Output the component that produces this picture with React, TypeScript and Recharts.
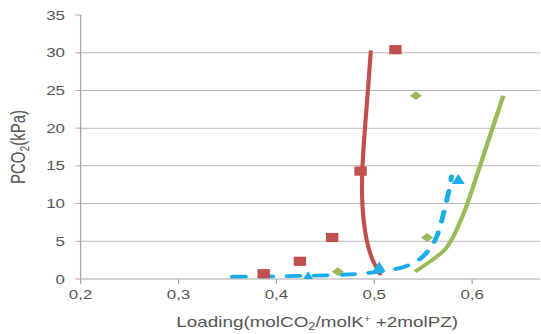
import React from 'react';
import { ComposedChart, Line, Scatter, XAxis, YAxis, ReferenceLine, Label } from 'recharts';

// ---- tick labels / axes ----
const xTicks = [0.2, 0.3, 0.4, 0.5, 0.6];
const yTicks = [0, 5, 10, 15, 20, 25, 30, 35];
const gridValues = [5, 10, 15, 20, 25, 30];

// ---- experimental points ----
const redExpX = [0.387, 0.424, 0.457, 0.486, 0.5216];
const redExpY = [0.7, 2.35, 5.5, 14.3, 30.4];
const greenExpX = [0.4628, 0.5425, 0.554];
const greenExpY = [0.97, 24.3, 5.5];
const blueExpX = [0.4324, 0.505, 0.5858];
const blueExpY = [0.3, 1.6, 13.2];

// ---- model curves ----
const redModelX = [0.5065, 0.4985, 0.4925, 0.489, 0.4875, 0.488, 0.4905, 0.4935, 0.4965];
const redModelY = [0.5, 2.5, 5, 8, 11, 15, 20, 25, 30.3];
const greenModelX = [0.5415, 0.56, 0.574, 0.584, 0.594, 0.606, 0.619, 0.6318];
const greenModelY = [0.97, 2.6, 4.2, 6.5, 9.6, 14.2, 19.3, 24.3];
const blueModelX = [0.355, 0.4, 0.44, 0.48, 0.51, 0.53, 0.545, 0.556, 0.564, 0.57, 0.575, 0.579];
const blueModelY = [0.3, 0.35, 0.45, 0.65, 1.05, 1.6, 2.5, 3.9, 5.7, 8.3, 11, 13.6];

const toPoints = (xs: number[], ys: number[]) => xs.map((x, i) => ({ x, y: ys[i] }));

const redExp = toPoints(redExpX, redExpY);
const greenExp = toPoints(greenExpX, greenExpY);
const blueExp = toPoints(blueExpX, blueExpY);
const redModel = toPoints(redModelX, redModelY);
const greenModel = toPoints(greenModelX, greenModelY);
const blueModel = toPoints(blueModelX, blueModelY);

const RED = '#c0504d';
const GREEN = '#9bbb59';
const BLUE = '#19aee9';
const AXIS = '#a8a8a8';
const GRID = '#b6b6b6';
const TEXT = '#555555';
const FONT = '"Liberation Sans", Arial, sans-serif';

const W = 416;
const H = 334;
const SX = 541 / W;

const Square = (p: any) => (
  <rect x={p.cx - 4.75} y={p.cy - 4.6} width={9.5} height={9.2} fill={RED} />
);
const Diamond = (p: any) => (
  <polygon
    points={`${p.cx},${p.cy - 4.4} ${p.cx + 4.6},${p.cy} ${p.cx},${p.cy + 4.4} ${p.cx - 4.6},${p.cy}`}
    fill={GREEN}
  />
);
const Triangle = (p: any) => (
  <polygon
    points={`${p.cx},${p.cy - 5.5} ${p.cx + 5},${p.cy + 4.5} ${p.cx - 5},${p.cy + 4.5}`}
    fill={BLUE}
  />
);

const fmtX = (v: number) => v.toFixed(1).replace('.', ',');

const XLabel = (props: any) => {
  const vb = props.viewBox || {};
  const cx = vb.x + vb.width / 2 + 5.4;
  const y = vb.y + 48;
  return (
    <text x={cx} y={y} textAnchor="middle" fill={TEXT} fontSize={14.5} fontFamily={FONT}>
      <tspan>Loading(molCO</tspan>
      <tspan fontSize={10} dy={3}>2</tspan>
      <tspan dy={-3}>/molK</tspan>
      <tspan fontSize={9} dy={-5}>+</tspan>
      <tspan dy={5}>{' +2molPZ)'}</tspan>
    </text>
  );
};

const YLabel = (props: any) => {
  const vb = props.viewBox || {};
  const x = 19;
  const y = vb.y + vb.height / 2;
  return (
    <text
      x={x}
      y={y}
      transform={`rotate(-90, ${x}, ${y})`}
      textAnchor="middle"
      fill={TEXT}
      fontSize={15}
      fontFamily={FONT}
    >
      <tspan>PCO</tspan>
      <tspan fontSize={10.5} dy={3}>2</tspan>
      <tspan dy={-3}>(kPa)</tspan>
    </text>
  );
};

export default function App() {
  return (
    <div
      style={{
        position: 'absolute',
        left: 0,
        top: 0,
        width: W,
        height: H,
        transform: `scale(${SX}, 1)`,
        transformOrigin: '0 0',
        background: '#fff',
      }}
    >
      <ComposedChart width={W} height={H} margin={{ top: 15, right: 1, left: 0, bottom: 0 }}>
        <XAxis
          type="number"
          dataKey="x"
          domain={[0.2, 0.669]}
          ticks={xTicks}
          interval={0}
          allowDataOverflow
          tickFormatter={fmtX}
          stroke={AXIS}
          tickSize={5}
          tickMargin={6}
          height={55}
          tick={{ fill: TEXT, fontSize: 13, fontFamily: FONT }}
        >
          <Label content={XLabel} />
        </XAxis>
        <YAxis
          type="number"
          dataKey="y"
          domain={[0, 35]}
          ticks={yTicks}
          interval={0}
          allowDataOverflow
          stroke={AXIS}
          tickSize={4}
          tickMargin={8}
          width={62}
          tick={{ fill: TEXT, fontSize: 13, fontFamily: FONT }}
        >
          <Label content={YLabel} />
        </YAxis>
        {gridValues.map((v) => (
          <ReferenceLine key={v} y={v} stroke={GRID} strokeWidth={1} />
        ))}
        <Line
          data={redModel}
          dataKey="y"
          type="natural"
          stroke={RED}
          strokeWidth={3.2}
          dot={false}
          activeDot={false}
          isAnimationActive={false}
        />
        <Line
          data={greenModel}
          dataKey="y"
          type="natural"
          stroke={GREEN}
          strokeWidth={3.4}
          dot={false}
          activeDot={false}
          isAnimationActive={false}
        />
        <Line
          data={blueModel}
          dataKey="y"
          type="natural"
          stroke={BLUE}
          strokeWidth={3.8}
          strokeDasharray="10 11"
          strokeLinecap="round"
          dot={false}
          activeDot={false}
          isAnimationActive={false}
        />
        <Scatter data={redExp} dataKey="y" shape={Square} isAnimationActive={false} />
        <Scatter data={greenExp} dataKey="y" shape={Diamond} isAnimationActive={false} />
        <Scatter data={blueExp} dataKey="y" shape={Triangle} isAnimationActive={false} />
      </ComposedChart>
    </div>
  );
}
